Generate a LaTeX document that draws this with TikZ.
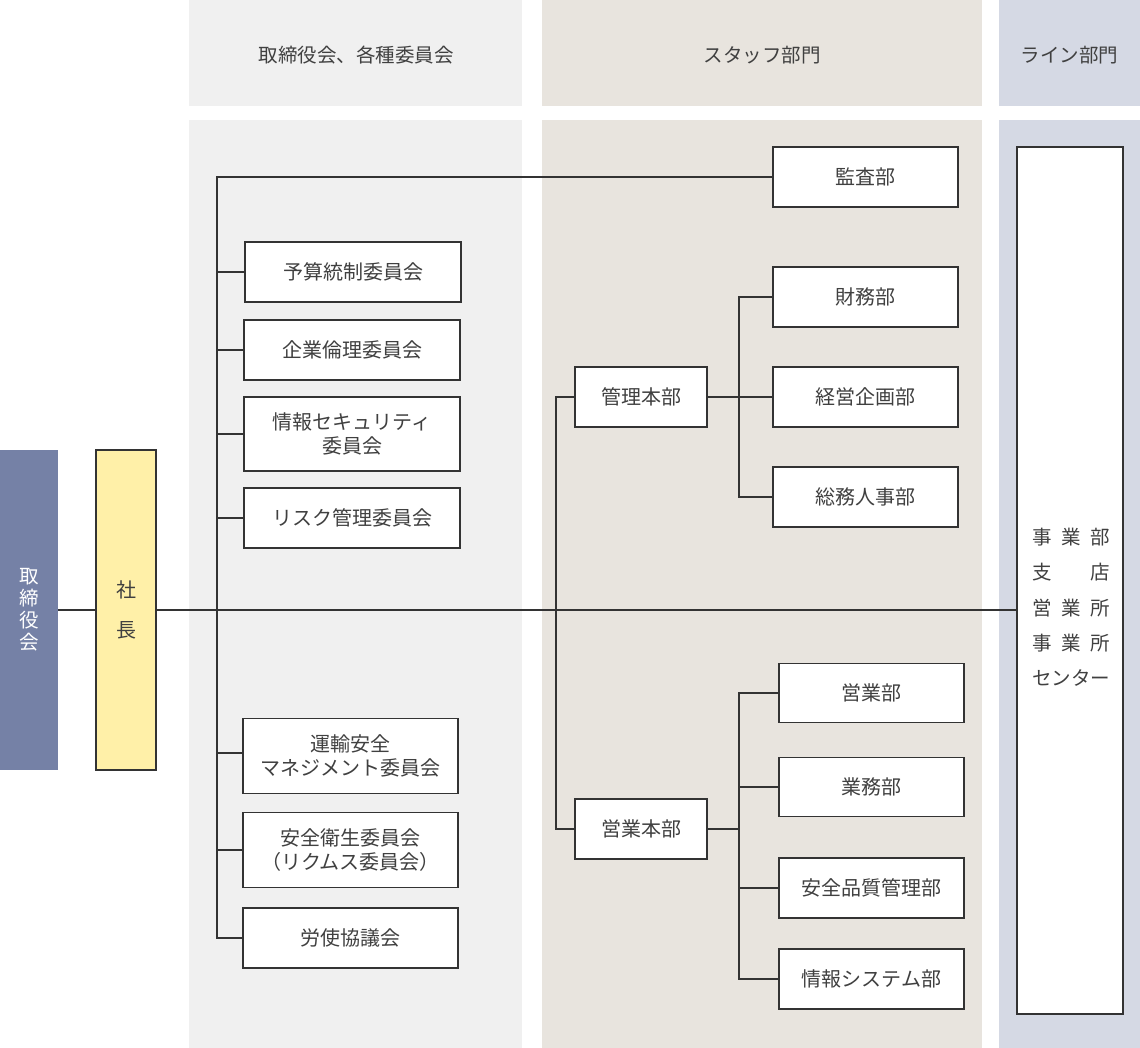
\documentclass[tikz,border=0pt]{standalone}
\usepackage{fontspec}
\setmainfont{Noto Sans CJK JP}
\definecolor{colA}{HTML}{F0F0F0}
\definecolor{colB}{HTML}{E8E4DE}
\definecolor{colC}{HTML}{D5D9E4}
\definecolor{boardc}{HTML}{7581A6}
\definecolor{presc}{HTML}{FFF0A8}
\definecolor{linec}{HTML}{333333}
\definecolor{txtc}{HTML}{404040}
\tikzset{
  orgbox/.style={draw=linec, line width=1.2pt, fill=white, text=txtc, align=center,
    inner sep=0pt, font=\fontsize{20}{24}\selectfont},
  conn/.style={draw=linec, line width=1.2pt},
  headtxt/.style={text=txtc, font=\fontsize{19.5}{24}\selectfont, inner sep=0pt},
}
\begin{document}
\begin{tikzpicture}[x=1pt,y=-1pt]
\useasboundingbox (0,0) rectangle (1140,1048);
% background columns
\fill[colA] (189,0) rectangle (522,106);
\fill[colA] (189,120) rectangle (522,1048);
\fill[colB] (542,0) rectangle (982,106);
\fill[colB] (542,120) rectangle (982,1048);
\fill[colC] (999,0) rectangle (1140,106);
\fill[colC] (999,120) rectangle (1140,1048);
% headers
\node[headtxt] (h1) at (356,55) {取締役会、各種委員会};
\node[headtxt] (h2) at (762,55) {スタッフ部門};
\node[headtxt] (h3) at (1069.5,55) {ライン部門};
% board and president
\node[fill=boardc, minimum width=58pt, minimum height=320pt, inner sep=0pt,
  text=white, align=center, font=\fontsize{19.5}{22}\selectfont] (board) at (29,610) {取\\締\\役\\会};
\node[draw=linec, line width=1.2pt, fill=presc, minimum width=60pt, minimum height=320pt, inner sep=0pt,
  text=txtc, align=center, font=\fontsize{20}{40}\selectfont] (pres) at (126,610) {社\\長};
% committees
\node[orgbox, minimum width=185pt, minimum height=60pt] (kansa) at (865.5,177) {監査部};
\node[orgbox, minimum width=216pt, minimum height=60pt] (yosan) at (353,272) {予算統制委員会};
\node[orgbox, minimum width=216pt, minimum height=60pt] (kigyo) at (352,350) {企業倫理委員会};
\node[orgbox, minimum width=216pt, minimum height=74pt] (jsec) at (352,434) {情報セキュリティ\\委員会};
\node[orgbox, minimum width=216pt, minimum height=60pt] (risk) at (352,518) {リスク管理委員会};
\node[orgbox, minimum width=215pt, minimum height=75pt] (unyu) at (350.5,756) {運輸安全\\マネジメント委員会};
\node[orgbox, minimum width=215pt, minimum height=75pt] (eisei) at (350.5,850) {安全衛生委員会\\（リクムス委員会）};
\node[orgbox, minimum width=215pt, minimum height=60pt] (roushi) at (350.5,938) {労使協議会};
% staff
\node[orgbox, minimum width=132pt, minimum height=60pt] (kanri) at (641,397) {管理本部};
\node[orgbox, minimum width=185pt, minimum height=60pt] (zaimu) at (865.5,297) {財務部};
\node[orgbox, minimum width=185pt, minimum height=60pt] (keiei) at (865.5,397) {経営企画部};
\node[orgbox, minimum width=185pt, minimum height=60pt] (somu) at (865.5,497) {総務人事部};
\node[orgbox, minimum width=132pt, minimum height=60pt] (eigyohq) at (641,829) {営業本部};
\node[orgbox, minimum width=185pt, minimum height=59pt] (eigyo) at (871.5,693) {営業部};
\node[orgbox, minimum width=185pt, minimum height=59pt] (gyomu) at (871.5,787) {業務部};
\node[orgbox, minimum width=185pt, minimum height=60pt] (anzen) at (871.5,888) {安全品質管理部};
\node[orgbox, minimum width=185pt, minimum height=60pt] (joho) at (871.5,979) {情報システム部};
% line dept
\node[orgbox, minimum width=106pt, minimum height=867pt] (linebox) at (1070,580.5) {};
\node[text=txtc, inner sep=0pt, align=center, font=\fontsize{19.5}{35.3}\selectfont] (linetxt) at (1071,607.5)
  {\hbox to 78pt{事\hfil 業\hfil 部}\\ \hbox to 78pt{支\hfil 店}\\ \hbox to 78pt{営\hfil 業\hfil 所}\\ \hbox to 78pt{事\hfil 業\hfil 所}\\ \hbox to 78pt{センター}};
% helper x positions
\coordinate (tx) at (217,0);
\coordinate (sx) at (556,0);
\coordinate (kx) at (739,0);
% connectors
\draw[conn] (board.east) -- (pres.west);
\draw[conn] (pres.east) -- (pres.east -| linebox.west);
\draw[conn] (kansa.west) -| (roushi.west -| tx) -- (roushi.west);
\foreach \n in {yosan,kigyo,jsec,risk,eisei}{
  \draw[conn] (\n.west) -- (\n.west -| tx);
}
\draw[conn] ([yshift=3pt]unyu.west) -- ([yshift=3pt]unyu.west -| tx);
\draw[conn] (kanri.west) -| (eigyohq.west -| sx) -- (eigyohq.west);
\draw[conn] (kanri.east) -- (keiei.west);
\draw[conn] (zaimu.west) -| (somu.west -| kx) -- (somu.west);
\draw[conn] (eigyohq.east) -- (eigyohq.east -| kx);
\draw[conn] (eigyo.west) -| (joho.west -| kx) -- (joho.west);
\draw[conn] (gyomu.west) -- (gyomu.west -| kx);
\draw[conn] (anzen.west) -- (anzen.west -| kx);
\end{tikzpicture}
\end{document}
